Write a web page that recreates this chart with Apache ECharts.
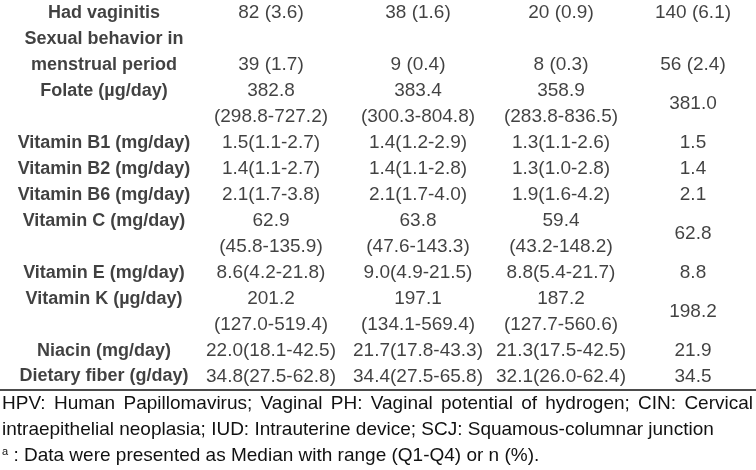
<!DOCTYPE html>
<html>
<head>
<meta charset="utf-8">
<script src="https://cdn.jsdelivr.net/npm/echarts@6/dist/echarts.min.js"></script>
<style>
html, body { margin: 0; padding: 0; background: #fff; }
#main { width: 756px; height: 470px; }
</style>
</head>
<body>
<div id="main"></div>
<script>
// table content
const rowLabels = [
    'Had vaginitis', 'Sexual behavior in\nmenstrual period', 'Folate (µg/day)',
    'Vitamin B1 (mg/day)', 'Vitamin B2 (mg/day)', 'Vitamin B6 (mg/day)',
    'Vitamin C (mg/day)', 'Vitamin E (mg/day)', 'Vitamin K (µg/day)',
    'Niacin (mg/day)', 'Dietary fiber (g/day)'
];
const group1 = [
    '82 (3.6)', '39 (1.7)', '382.8\n(298.8-727.2)', '1.5(1.1-2.7)', '1.4(1.1-2.7)', '2.1(1.7-3.8)',
    '62.9\n(45.8-135.9)', '8.6(4.2-21.8)', '201.2\n(127.0-519.4)', '22.0(18.1-42.5)', '34.8(27.5-62.8)'
];
const group2 = [
    '38 (1.6)', '9 (0.4)', '383.4\n(300.3-804.8)', '1.4(1.2-2.9)', '1.4(1.1-2.8)', '2.1(1.7-4.0)',
    '63.8\n(47.6-143.3)', '9.0(4.9-21.5)', '197.1\n(134.1-569.4)', '21.7(17.8-43.3)', '34.4(27.5-65.8)'
];
const group3 = [
    '20 (0.9)', '8 (0.3)', '358.9\n(283.8-836.5)', '1.3(1.1-2.6)', '1.3(1.0-2.8)', '1.9(1.6-4.2)',
    '59.4\n(43.2-148.2)', '8.8(5.4-21.7)', '187.2\n(127.7-560.6)', '21.3(17.5-42.5)', '32.1(26.0-62.4)'
];
const total = ['140 (6.1)', '56 (2.4)', '381.0', '1.5', '1.4', '2.1', '62.8', '8.8', '198.2', '21.9', '34.5'];
const footLine1 = 'HPV: Human Papillomavirus; Vaginal PH: Vaginal potential of hydrogen; CIN: Cervical';
const footLine2 = 'intraepithelial neoplasia; IUD: Intrauterine device; SCJ: Squamous-columnar junction';
const footLine3 = ' : Data were presented as Median with range (Q1-Q4) or n (%).';

// layout
const COL_X = [104, 271, 418, 561, 693];
const LINE_H = 26.1;
const TOP = -2;
const FONT = '"Liberation Sans", Arial, sans-serif';
const VAL_SIZE = 19;
const LAB_SIZE = 18;
const FOOT_SIZE = 19;
const FOOT_Y = [404, 430, 456];
// where a one-line value sits inside a two-line row
const shortAlign = ['middle', 'bottom', 'middle', 'middle', 'middle', 'middle', 'middle', 'middle', 'middle', 'middle', 'middle'];

const nLines = s => s.split('\n').length;

let labelPts = [];
let valuePts = [];
let start = 0;
rowLabels.forEach((lab, i) => {
    const cells = [group1[i], group2[i], group3[i], total[i]];
    const n = Math.max(nLines(lab), ...cells.map(nLines));
    // label: top line if shorter than the row
    const lk = nLines(lab);
    labelPts.push({ value: [COL_X[0], start + (lk < n ? lk / 2 : n / 2)], text: lab });
    cells.forEach((c, j) => {
        const k = nLines(c);
        let y = start + n / 2;
        if (k < n && shortAlign[i] === 'bottom') y = start + n - k / 2;
        valuePts.push({ value: [COL_X[j + 1], y], text: c });
    });
    start += n;
});
const totalLines = start;

const chart = echarts.init(document.getElementById('main'));

// justify the first footnote line across the width
const ctx = document.createElement('canvas').getContext('2d');
ctx.font = FOOT_SIZE + 'px ' + FONT;
const words = footLine1.split(' ');
const wordW = words.map(w => ctx.measureText(w).width);
const gap = (753 - 2 - wordW.reduce((a, b) => a + b, 0)) / (words.length - 1);
let wx = 2;
const footGraphics = words.map((w, i) => {
    const el = {
        type: 'text', x: wx, y: FOOT_Y[0],
        style: { text: w, font: FOOT_SIZE + 'px ' + FONT, fill: '#111', verticalAlign: 'middle' }
    };
    wx += wordW[i] + gap;
    return el;
});
footGraphics.push({
    type: 'text', x: 2, y: FOOT_Y[1],
    style: { text: footLine2, font: FOOT_SIZE + 'px ' + FONT, fill: '#111', verticalAlign: 'middle' }
});
footGraphics.push({
    type: 'text', x: 2, y: FOOT_Y[2],
    style: {
        text: '{sup|a}{t|' + footLine3 + '}',
        verticalAlign: 'middle',
        rich: {
            sup: { fontSize: 11, fontFamily: FONT, fill: '#111', verticalAlign: 'top', padding: [0, 0, 7, 0] },
            t: { fontSize: FOOT_SIZE, fontFamily: FONT, fill: '#111' }
        }
    }
});

const option = {
    backgroundColor: '#fff',
    animation: false,
    grid: { left: 0, right: 0, top: TOP, height: totalLines * LINE_H },
    xAxis: { type: 'value', min: 0, max: 756, show: false },
    yAxis: { type: 'value', min: 0, max: totalLines, inverse: true, show: false },
    series: [
        {
            type: 'scatter',
            symbolSize: 0,
            data: labelPts,
            label: {
                show: true,
                position: 'inside',
                formatter: p => p.data.text,
                color: '#111',
                fontFamily: FONT,
                fontWeight: 'bold',
                fontSize: LAB_SIZE,
                lineHeight: LINE_H,
                align: 'center'
            },
            markLine: {
                silent: true,
                symbol: 'none',
                label: { show: false },
                lineStyle: { color: '#111', width: 1.5, type: 'solid' },
                data: [{ yAxis: totalLines }]
            }
        },
        {
            type: 'scatter',
            symbolSize: 0,
            data: valuePts,
            label: {
                show: true,
                position: 'inside',
                formatter: p => p.data.text,
                color: '#111',
                fontFamily: FONT,
                fontSize: VAL_SIZE,
                lineHeight: LINE_H,
                align: 'center'
            }
        }
    ],
    graphic: footGraphics
};
chart.setOption(option);
</script>
</body>
</html>
